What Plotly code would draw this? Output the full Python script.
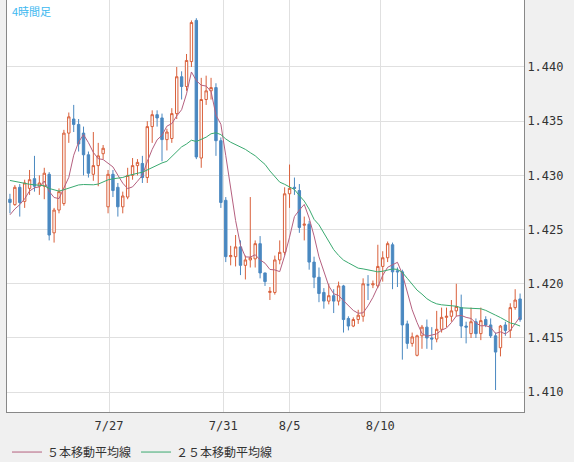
import pandas as pd
import plotly.graph_objects as go

# 4時間足 OHLC
opens = [1.4278, 1.4273, 1.4289, 1.4276, 1.4288, 1.4297, 1.4290, 1.4290, 1.4301, 1.4247,
         1.4268, 1.4274, 1.4339, 1.4352, 1.4347, 1.4339, 1.4319, 1.4301, 1.4309, 1.4320,
         1.4271, 1.4301, 1.4289, 1.4271, 1.4280, 1.4300, 1.4309, 1.4311, 1.4298, 1.4345,
         1.4356, 1.4353, 1.4333, 1.4334, 1.4357, 1.4391, 1.4382, 1.4405, 1.4443, 1.4316,
         1.4370, 1.4378, 1.4381, 1.4332, 1.4277, 1.4225, 1.4225, 1.4234, 1.4217, 1.4222,
         1.4223, 1.4237, 1.4210, 1.4192, 1.4192, 1.4222, 1.4229, 1.4283, 1.4289, 1.4286,
         1.4254, 1.4255, 1.4220, 1.4206, 1.4192, 1.4184, 1.4189, 1.4184, 1.4198, 1.4168,
         1.4161, 1.4167, 1.4170, 1.4199, 1.4199, 1.4198, 1.4216, 1.4224, 1.4236, 1.4212,
         1.4211, 1.4163, 1.4145, 1.4134, 1.4152, 1.4160, 1.4150, 1.4149, 1.4158, 1.4169,
         1.4170, 1.4175, 1.4178, 1.4161, 1.4154, 1.4165, 1.4154, 1.4167, 1.4162, 1.4152,
         1.4141, 1.4162, 1.4157, 1.4178, 1.4186]
highs = [1.4283, 1.4291, 1.4292, 1.4296, 1.4305, 1.4318, 1.4300, 1.4307, 1.4303, 1.4270,
         1.4288, 1.4342, 1.4358, 1.4365, 1.4352, 1.4345, 1.4322, 1.4340, 1.4330, 1.4328,
         1.4305, 1.4305, 1.4293, 1.4285, 1.4307, 1.4316, 1.4315, 1.4318, 1.4350, 1.4360,
         1.4360, 1.4357, 1.4343, 1.4362, 1.4400, 1.4396, 1.4412, 1.4443, 1.4445, 1.4390,
         1.4392, 1.4390, 1.4385, 1.4335, 1.4280, 1.4235, 1.4245, 1.4240, 1.4226, 1.4280,
         1.4240, 1.4244, 1.4208, 1.4197, 1.4226, 1.4240, 1.4289, 1.4310, 1.4298, 1.4292,
         1.4262, 1.4258, 1.4225, 1.4215, 1.4196, 1.4200, 1.4195, 1.4202, 1.4199, 1.4170,
         1.4169, 1.4176, 1.4205, 1.4208, 1.4203, 1.4236, 1.4230, 1.4239, 1.4238, 1.4215,
         1.4213, 1.4166, 1.4155, 1.4153, 1.4162, 1.4167, 1.4160, 1.4175, 1.4178, 1.4178,
         1.4185, 1.4200, 1.4190, 1.4165, 1.4178, 1.4168, 1.4178, 1.4170, 1.4168, 1.4155,
         1.4162, 1.4165, 1.4182, 1.4195, 1.4191]
lows = [1.4265, 1.4272, 1.4262, 1.4270, 1.4282, 1.4285, 1.4282, 1.4278, 1.4240, 1.4238,
        1.4265, 1.4272, 1.4330, 1.4340, 1.4322, 1.4300, 1.4298, 1.4295, 1.4290, 1.4315,
        1.4265, 1.4280, 1.4262, 1.4265, 1.4278, 1.4296, 1.4300, 1.4293, 1.4293, 1.4330,
        1.4345, 1.4313, 1.4323, 1.4330, 1.4352, 1.4370, 1.4378, 1.4400, 1.4315, 1.4307,
        1.4365, 1.4370, 1.4318, 1.4270, 1.4220, 1.4217, 1.4216, 1.4208, 1.4204, 1.4215,
        1.4215, 1.4205, 1.4198, 1.4185, 1.4190, 1.4218, 1.4226, 1.4270, 1.4282, 1.4247,
        1.4240, 1.4213, 1.4196, 1.4183, 1.4177, 1.4181, 1.4173, 1.4180, 1.4155, 1.4157,
        1.4160, 1.4163, 1.4165, 1.4185, 1.4196, 1.4196, 1.4202, 1.4220, 1.4195, 1.4197,
        1.4130, 1.4140, 1.4142, 1.4133, 1.4140, 1.4140, 1.4139, 1.4146, 1.4155, 1.4160,
        1.4165, 1.4170, 1.4150, 1.4145, 1.4150, 1.4150, 1.4148, 1.4160, 1.4150, 1.4102,
        1.4133, 1.4152, 1.4150, 1.4176, 1.4165]
closes = [1.4275, 1.4289, 1.4275, 1.4293, 1.4296, 1.4290, 1.4293, 1.4302, 1.4245, 1.4268,
          1.4285, 1.4339, 1.4354, 1.4347, 1.4329, 1.4319, 1.4302, 1.4309, 1.4318, 1.4325,
          1.4301, 1.4286, 1.4271, 1.4281, 1.4300, 1.4309, 1.4312, 1.4298, 1.4345, 1.4356,
          1.4353, 1.4333, 1.4340, 1.4357, 1.4391, 1.4382, 1.4406, 1.4441, 1.4317, 1.4370,
          1.4378, 1.4381, 1.4332, 1.4275, 1.4225, 1.4226, 1.4234, 1.4217, 1.4222, 1.4224,
          1.4237, 1.4210, 1.4202, 1.4193, 1.4222, 1.4229, 1.4283, 1.4288, 1.4288, 1.4252,
          1.4255, 1.4220, 1.4206, 1.4191, 1.4184, 1.4189, 1.4184, 1.4198, 1.4167, 1.4161,
          1.4167, 1.4171, 1.4200, 1.4199, 1.4200, 1.4216, 1.4224, 1.4237, 1.4211, 1.4211,
          1.4162, 1.4145, 1.4151, 1.4152, 1.4160, 1.4150, 1.4149, 1.4158, 1.4169, 1.4170,
          1.4175, 1.4179, 1.4161, 1.4160, 1.4165, 1.4154, 1.4166, 1.4162, 1.4152, 1.4137,
          1.4161, 1.4157, 1.4178, 1.4185, 1.4167]

# closes before the visible window (needed for the moving averages)
prior_closes = [1.4312, 1.4305, 1.4309, 1.4315, 1.4302, 1.4306, 1.4311, 1.4308, 1.4304,
                1.4310, 1.4307, 1.4313, 1.4306, 1.4301, 1.4309, 1.4312, 1.4305, 1.4302,
                1.4270, 1.4258, 1.4262, 1.4255, 1.4266, 1.4260]

tick_pos = [20.2, 43.5, 57, 75.5]
tick_text = ["7/27", "7/31", "8/5", "8/10"]
price_ticks = [1.410, 1.415, 1.420, 1.425, 1.430, 1.435, 1.440]

n_prior = len(prior_closes)
s = pd.Series(prior_closes + closes)
ma5 = s.rolling(5).mean().iloc[n_prior:].tolist()
ma25 = s.rolling(25).mean().iloc[n_prior:].tolist()
x = list(range(len(closes)))

fig = go.Figure()
fig.add_trace(go.Candlestick(
    x=x, open=opens, high=highs, low=lows, close=closes,
    increasing=dict(line=dict(color="#d9603b", width=1), fillcolor="#ffffff"),
    decreasing=dict(line=dict(color="#4a88c0", width=1), fillcolor="#4a88c0"),
    whiskerwidth=0, showlegend=False, hoverinfo="skip"))
fig.add_trace(go.Scatter(x=x, y=ma5, mode="lines", name="５本移動平均線",
                         line=dict(color="#b5607f", width=1)))
fig.add_trace(go.Scatter(x=x, y=ma25, mode="lines", name="２５本移動平均線",
                         line=dict(color="#3aaa70", width=1)))

fig.update_layout(
    width=574, height=462,
    margin=dict(l=7, r=50, t=0, b=50, autoexpand=False),
    paper_bgcolor="#f0f0f0", plot_bgcolor="#ffffff",
    font=dict(family="Noto Sans CJK JP", size=12, color="#333333"),
    showlegend=True,
    legend=dict(orientation="h", x=0, y=-0.062, xanchor="left", yanchor="top",
                bgcolor="rgba(0,0,0,0)", font=dict(size=12), itemwidth=30),
    annotations=[dict(text="4時間足", xref="paper", yref="paper", x=0.005, y=0.998,
                      xanchor="left", yanchor="top", showarrow=False,
                      font=dict(color="#3cb8f0", size=11))],
)
fig.update_xaxes(range=[-0.6, 104.8], tickvals=tick_pos, ticktext=tick_text,
                 showgrid=True, gridcolor="#e0e0e0", showline=True, linecolor="#888888",
                 mirror=True, rangeslider_visible=False, ticks="", zeroline=False,
                 ticklabelstandoff=3,
                 tickfont=dict(family="DejaVu Sans Mono", size=12))
fig.update_yaxes(range=[1.40817, 1.44618], side="right", tickvals=price_ticks,
                 tickformat=".3f", showgrid=True, gridcolor="#e0e0e0", showline=True,
                 linecolor="#888888", mirror=True, ticks="", zeroline=False,
                 tickfont=dict(family="DejaVu Sans Mono", size=12))

fig.write_html("out.html", config={"displayModeBar": False},
               post_script="document.body.style.margin='0';")
